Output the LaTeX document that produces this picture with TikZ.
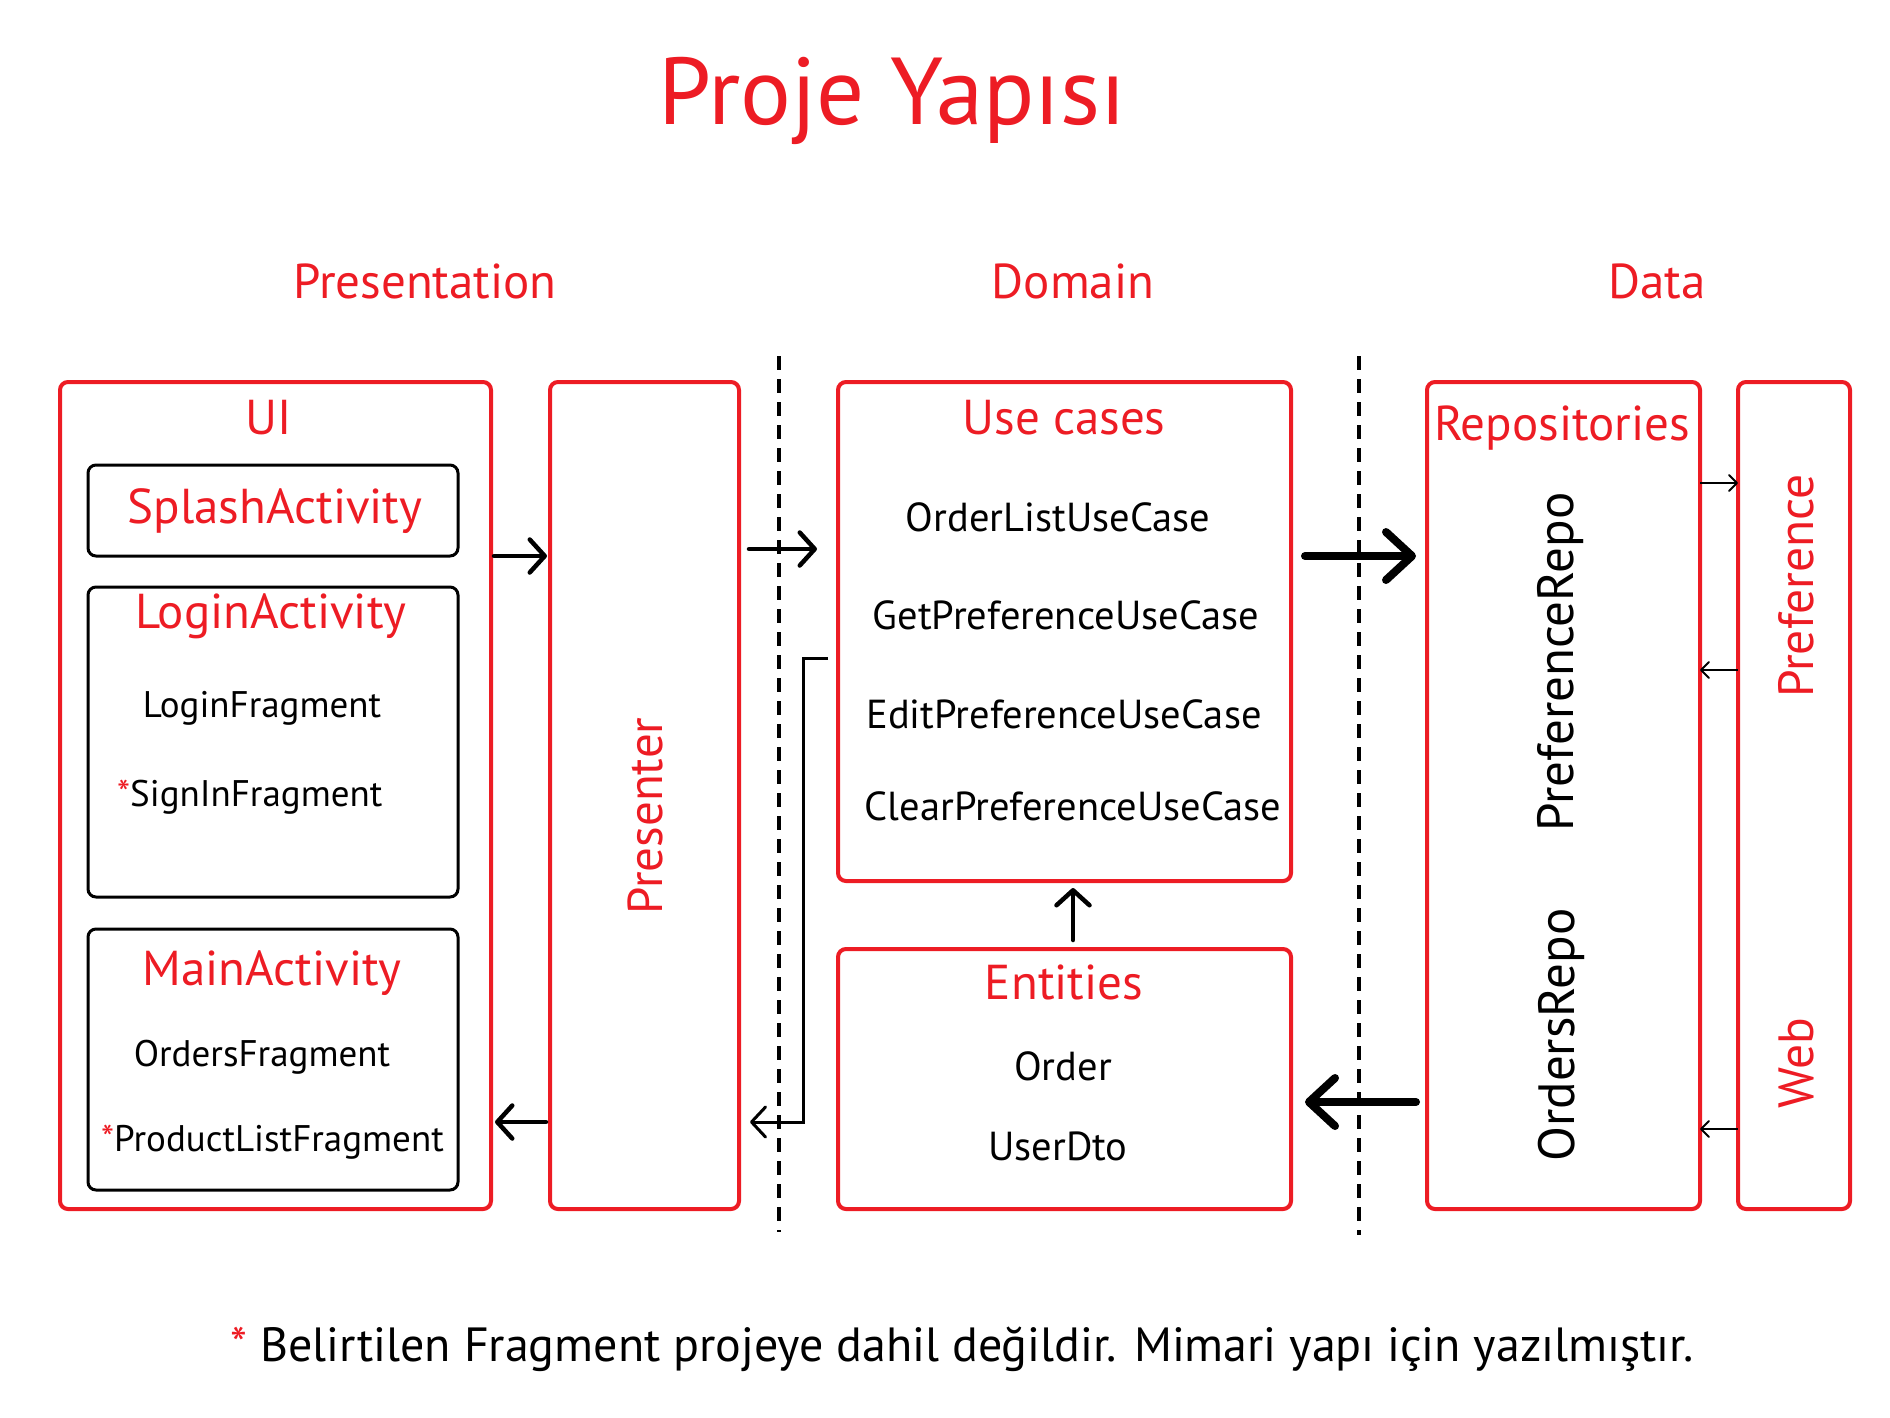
\documentclass[tikz,border=0pt]{standalone}
\usepackage{fontspec}
\setmainfont{PT Sans}
\usetikzlibrary{arrows.meta,positioning}
\definecolor{projred}{RGB}{237,28,36}
\newcommand{\fsz}[1]{\fontsize{#1pt}{#1pt}\selectfont}

\begin{document}
\begin{tikzpicture}[x=1pt, y=-1pt,
    layer/.style={draw=projred, line width=4pt, rounded corners=8pt, inner sep=0pt, outer sep=0pt},
    actbox/.style={draw=black, line width=3pt, rounded corners=8pt, inner sep=0pt, outer sep=0pt},
    head/.style={text=projred, font=\fsz{49}, inner sep=0pt},
    item/.style={text=black, font=\fsz{37}, inner sep=0pt},
    case/.style={text=black, font=\fsz{40.5}, inner sep=0pt},
    vert/.style={rotate=90, font=\fsz{51}, inner sep=0pt},
    divider/.style={line width=4pt, dash pattern=on 14pt off 9pt},
    arr/.style={line width=4.5pt, line cap=round, -{Straight Barb[length=15pt, width=33pt, round]}},
    bigarr/.style={line width=8pt, line cap=round, -{Straight Barb[length=26pt, width=48pt, round]}},
    bentarr/.style={line width=3pt, -{Straight Barb[length=14pt, width=30pt, round]}},
    thinarr/.style={line width=2pt, -{Straight Barb[length=8pt, width=16pt, round]}}
]
\useasboundingbox (0,0) rectangle (1890,1417);

% title and layer names
\node[text=projred, font=\fsz{95}] (title) at (892,101) {Proje Yapısı};
\node[head] (presentation) at (425,281) {Presentation};
\node[head] (domain) at (1073,281) {Domain};
\node[head] (data) at (1657,281) {Data};

% presentation layer
\node[layer, minimum width=431pt, minimum height=827pt] (ui) at (275.5,795.5) {};
\node[head] (uilbl) at (269,418) {UI};
\node[actbox, minimum width=370pt, minimum height=91pt] (splash) at (273,510.5) {};
\node[head] at (275,511) {SplashActivity};
\node[actbox, minimum width=370pt, minimum height=310pt] (login) at (273,742) {};
\node[head] (loginlbl) at (271,616) {LoginActivity};
\node[item] (loginfrag) at (262,708) {LoginFragment};
\node[item, anchor=west] (signin) at (117,797) {\textcolor{projred}{*}SignInFragment};
\node[actbox, minimum width=370pt, minimum height=261pt] (main) at (273,1059.5) {};
\node[head] (mainlbl) at (272,973) {MainActivity};
\node[item] (orders) at (262,1057) {OrdersFragment};
\node[item, anchor=west] (products) at (101,1142) {\textcolor{projred}{*}ProductListFragment};

\node[layer, minimum width=189pt, minimum height=827pt] (presenter) at (644.5,795.5) {};
\node[vert, font=\fsz{49}, text=projred] (presenterlbl) at (645,816) {Presenter};

% domain layer
\node[layer, minimum width=453pt, minimum height=499pt] (usecases) at (1064.5,631.5) {};
\node[head] (usecaseslbl) at (1064,418) {Use cases};
\node[case] (orderlist) at (1058,517) {OrderListUseCase};
\node[case] (getpref) at (1066,615) {GetPreferenceUseCase};
\node[case] (editpref) at (1064,714) {EditPreferenceUseCase};
\node[case] (clearpref) at (1073,806) {ClearPreferenceUseCase};

\node[layer, minimum width=453pt, minimum height=260pt] (entities) at (1064.5,1079) {};
\node[head] (entitieslbl) at (1064,982) {Entities};
\node[case] (order) at (1063,1066) {Order};
\node[case] (userdto) at (1058,1146) {UserDto};

% data layer
\node[layer, minimum width=273pt, minimum height=827pt] (repos) at (1563.5,795.5) {};
\node[head] (reposlbl) at (1562,428) {Repositories};
\node[vert] (prefrepo) at (1561,662) {PreferenceRepo};
\node[vert] (ordersrepo) at (1561,1035) {OrdersRepo};

\node[layer, minimum width=112pt, minimum height=827pt] (sources) at (1794,795.5) {};
\node[vert, font=\fsz{49.5}, text=projred] (preflbl) at (1796,586) {Preference};
\node[vert, font=\fsz{49.5}, text=projred] (weblbl) at (1796,1063) {Web};

% dividers
\draw[divider] (779,356) -- (779,1232);
\draw[divider] (1359,356) -- (1359,1235);

% connectors
\coordinate (rowA) at (0,556);
\coordinate (rowB) at (0,549);
\coordinate (rowC) at (0,658);
\coordinate (rowD) at (0,1122);
\coordinate (rowE) at (0,1102);
\coordinate (rowF) at (0,483);
\coordinate (rowG) at (0,670);
\coordinate (rowH) at (0,1129);

\draw[arr] ([xshift=3pt]ui.east |- rowA) -- ([xshift=-3pt]presenter.west |- rowA);
\draw[arr] ([xshift=-4pt]presenter.west |- rowD) -- ([xshift=4pt]ui.east |- rowD);
\draw[arr] ([xshift=10pt]presenter.east |- rowB) -- ([xshift=-21pt]usecases.west |- rowB);
\draw[bentarr] ([xshift=-10pt]usecases.west |- rowC) -- ++(-25,0) |- ([xshift=11pt]presenter.east |- rowD);
\draw[arr] ([xshift=8.5pt, yshift=9pt]entities.north) -- ([xshift=8.5pt, yshift=-7pt]usecases.south);
\draw[bigarr] ([xshift=14pt]usecases.east |- rowA) -- ([xshift=-11pt]repos.west |- rowA);
\draw[bigarr] ([xshift=-11pt]repos.west |- rowE) -- ([xshift=14pt]entities.east |- rowE);
\draw[thinarr] (repos.east |- rowF) -- (sources.west |- rowF);
\draw[thinarr] (sources.west |- rowG) -- (repos.east |- rowG);
\draw[thinarr] (sources.west |- rowH) -- (repos.east |- rowH);

% footnote
\node[text=black, font=\fsz{48}] (note) at (962,1349) {\textcolor{projred}{*} Belirtilen Fragment projeye dahil değildir. Mimari yapı için yazılmıştır.};
\end{tikzpicture}
\end{document}
